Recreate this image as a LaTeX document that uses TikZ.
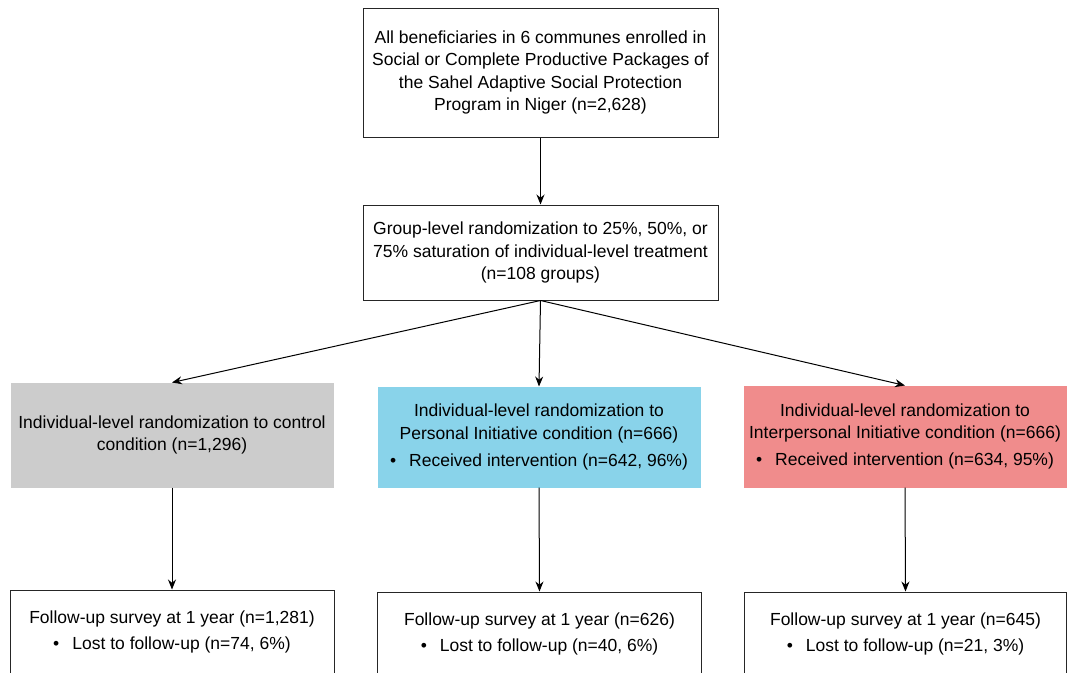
\documentclass[tikz,border=0pt]{standalone}
\usepackage{fontspec}
\setmainfont{Liberation Sans}
\usetikzlibrary{arrows.meta}
\definecolor{ctrlgray}{RGB}{204,204,204}
\definecolor{persblue}{RGB}{137,211,234}
\definecolor{interred}{RGB}{240,140,140}

\begin{document}
\begin{tikzpicture}[x=1pt,y=-1pt,
    box/.style={draw=black!85, line width=1pt, align=center, inner sep=0pt,
      font=\fontsize{17.5}{22.3}\selectfont},
    armbox/.style={box, draw=#1, fill=#1, minimum width=322pt, minimum height=101pt},
    fubox/.style={box, minimum width=324pt, minimum height=84pt},
    arr/.style={-{Stealth[length=10pt,width=8pt]}, line width=1pt}]
  \useasboundingbox (0,0) rectangle (1068,672);

  % enrolment and group-level randomization
  \node[box, minimum width=355pt, minimum height=129pt] (all) at (540.5,72.5)
    {All beneficiaries in 6 communes enrolled in\\
     Social or Complete Productive Packages of\\
     the Sahel Adaptive Social Protection\\
     Program in Niger (n=2,628)};
  \node[box, minimum width=355pt, minimum height=95pt] (group) at (540.5,252.5)
    {Group-level randomization to 25\%, 50\%, or\\
     75\% saturation of individual-level treatment\\
     (n=108 groups)};

  % individual-level arms
  \node[armbox=ctrlgray, minimum height=104pt] (ctrl) at (172,435)
    {Individual-level randomization to control\\ condition (n=1,296)};
  \node[armbox=persblue, minimum height=100pt] (pers) at (539,437)
    {Individual-level randomization to\\
     Personal Initiative condition (n=666)\\[5pt]
     •\hspace{13pt}Received intervention (n=642, 96\%)};
  \node[armbox=interred] (inter) at (905,436.5)
    {Individual-level randomization to\\
     Interpersonal Initiative condition (n=666)\\[5pt]
     •\hspace{13pt}Received intervention (n=634, 95\%)};

  % follow-up (boxes run off the bottom edge)
  \node[fubox] (fuctrl) at (172,632)
    {Follow-up survey at 1 year (n=1,281)\\[4pt]
     •\hspace{13pt}Lost to follow-up (n=74, 6\%)};
  \node[fubox] (fupers) at (539.5,634)
    {Follow-up survey at 1 year (n=626)\\[4pt]
     •\hspace{13pt}Lost to follow-up (n=40, 6\%)};
  \node[fubox, minimum width=322pt] (fuinter) at (905.5,634)
    {Follow-up survey at 1 year (n=645)\\[4pt]
     •\hspace{13pt}Lost to follow-up (n=21, 3\%)};

  \draw[arr] (all) -- (group);
  \foreach \arm/\fu in {ctrl/fuctrl, pers/fupers, inter/fuinter} {
    \draw[arr] (group.south) -- (\arm.north);
    \draw[arr] (\arm.south) -- (\fu.north);
  }
\end{tikzpicture}
\end{document}
